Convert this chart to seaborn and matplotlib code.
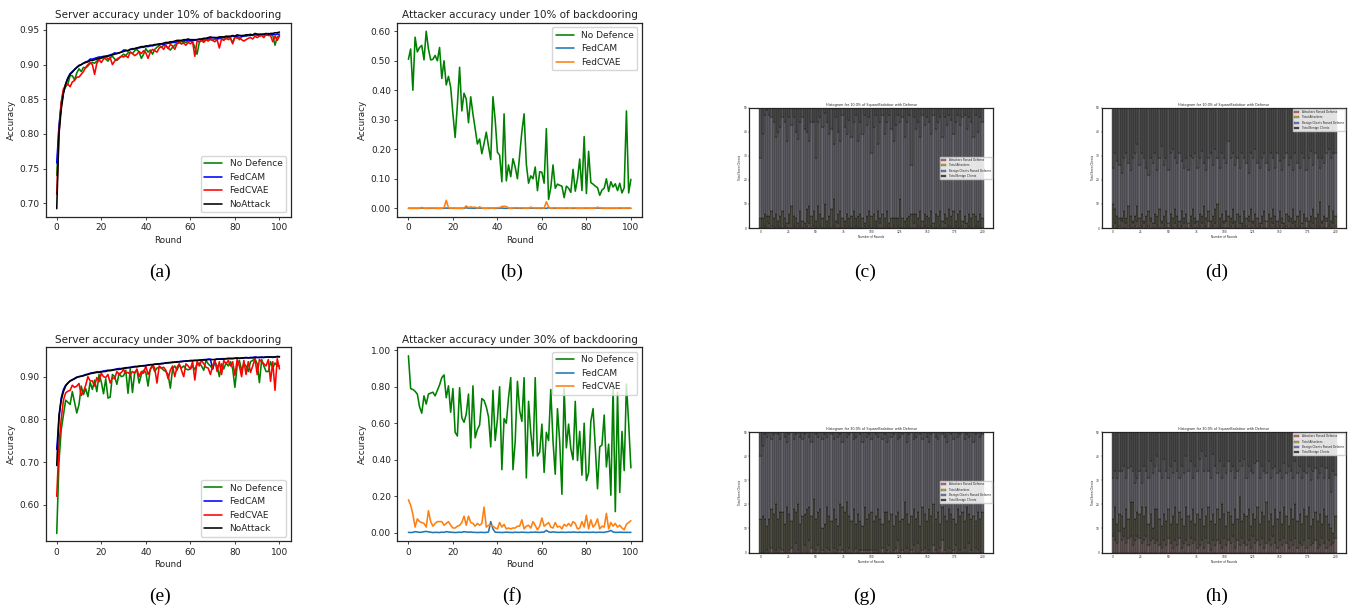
import numpy as np
import pandas as pd
import matplotlib
matplotlib.use("Agg")
import matplotlib.pyplot as plt
from matplotlib.patches import Patch
from matplotlib.ticker import FormatStrFormatter
import seaborn as sns

W, H = 1348, 611

rounds = list(range(101))
hist_rounds = list(range(0, 201, 2))

# (a) server accuracy, 10%
a_none = [.740,.810,.845,.862,.868,.872,.884,.884,.878,.888,
          .894,.890,.896,.895,.898,.902,.903,.902,.905,.908,
          .909,.910,.908,.905,.910,.912,.908,.906,.909,.912,
          .915,.913,.917,.918,.916,.920,.922,.918,.909,.915,
          .923,.918,.921,.915,.922,.925,.928,.925,.928,.927,
          .924,.921,.925,.928,.931,.932,.930,.933,.932,.934,
          .934,.933,.925,.915,.932,.935,.934,.936,.937,.936,
          .935,.937,.936,.938,.937,.936,.938,.939,.938,.932,
          .940,.941,.936,.940,.942,.941,.943,.944,.942,.944,
          .943,.941,.943,.944,.943,.945,.944,.942,.928,.940,
          .942]
a_cam = [.758,.810,.840,.860,.872,.881,.887,.890,.893,.896,
         .898,.900,.902,.904,.905,.908,.908,.909,.910,.911,
         .911,.912,.912,.913,.914,.915,.917,.916,.917,.918,
         .921,.921,.920,.922,.922,.923,.924,.924,.925,.925,
         .926,.926,.927,.927,.928,.929,.929,.930,.929,.930,
         .931,.931,.932,.932,.933,.934,.934,.934,.935,.935,
         .935,.935,.935,.936,.936,.936,.937,.937,.938,.938,
         .939,.939,.938,.938,.939,.939,.940,.940,.940,.941,
         .941,.941,.942,.941,.941,.942,.942,.942,.943,.943,
         .943,.943,.943,.943,.943,.944,.943,.944,.943,.944,
         .944]
a_cvae = [.713,.800,.845,.865,.870,.872,.868,.875,.877,.882,
          .882,.886,.890,.896,.900,.903,.900,.886,.902,.907,
          .903,.908,.912,.908,.910,.900,.905,.908,.910,.912,
          .911,.913,.910,.918,.916,.913,.915,.919,.916,.920,
          .917,.909,.918,.922,.920,.918,.924,.926,.922,.928,
          .923,.929,.927,.922,.930,.932,.930,.931,.928,.932,
          .930,.933,.912,.934,.933,.935,.932,.936,.934,.937,
          .935,.933,.936,.924,.937,.935,.938,.936,.938,.930,
          .940,.938,.939,.936,.934,.936,.938,.939,.937,.941,
          .939,.941,.942,.939,.944,.942,.942,.933,.941,.935,
          .941]
a_noattack = [.692,.800,.835,.858,.872,.880,.886,.889,.893,.896,
              .899,.900,.902,.903,.904,.906,.906,.907,.908,.909,
              .910,.911,.912,.912,.913,.914,.915,.916,.917,.918,
              .919,.920,.920,.922,.923,.923,.924,.925,.926,.926,
              .927,.927,.928,.928,.929,.929,.930,.930,.931,.932,
              .932,.933,.933,.934,.935,.935,.935,.936,.936,.937,
              .936,.936,.936,.936,.937,.937,.938,.938,.939,.940,
              .939,.939,.939,.940,.940,.940,.941,.941,.941,.942,
              .941,.943,.942,.942,.942,.943,.943,.943,.943,.945,
              .944,.944,.944,.944,.945,.944,.945,.945,.946,.946,
              .947]

# (b) attacker accuracy, 10%
b_none = [.505,.540,.400,.580,.530,.545,.552,.503,.600,.540,
          .503,.505,.518,.500,.545,.440,.500,.418,.447,.410,
          .320,.240,.350,.478,.330,.390,.370,.290,.378,.320,
          .270,.218,.235,.185,.220,.258,.210,.165,.378,.300,
          .190,.180,.090,.320,.093,.147,.107,.168,.140,.100,
          .180,.260,.320,.150,.085,.110,.100,.140,.060,.124,
          .122,.085,.270,.030,.070,.147,.068,.082,.078,.075,
          .036,.075,.068,.054,.132,.058,.100,.167,.060,.243,
          .050,.193,.087,.082,.075,.070,.044,.062,.068,.100,
          .057,.090,.072,.083,.060,.085,.052,.070,.330,.052,
          .098]
b_cam = [0,0,0,0,0,0,.001,0,0,0,
         0,0,0,0,0,0,0,.001,0,0,
         0,0,0,0,0,0,.002,0,.001,0,
         0,0,.001,0,0,0,0,0,0,0,
         0,0,.001,0,0,0,0,0,.001,0,
         0,0,0,0,0,.001,0,0,0,0,
         0,0,0,.002,0,0,0,0,0,0,
         0,0,0,0,0,0,0,0,0,0,
         0,0,0,0,0,.001,0,0,0,0,
         0,0,0,0,0,0,0,0,0,0,
         0]
b_cvae = [0,0,0,0,0,0,.003,0,0,0,
          .001,.001,0,0,0,0,.002,.027,.002,0,
          .001,0,0,0,0,.001,.008,.002,.005,.003,
          .004,0,.005,.001,0,0,.001,.001,0,.001,
          .002,.002,.006,.007,.006,.001,0,.001,.002,.002,
          .001,.002,0,.001,0,.004,.001,.001,.001,.001,
          .002,0,.022,.005,0,.001,.002,0,.001,0,
          0,.002,0,0,.002,.001,0,0,0,.001,
          .001,0,0,.001,0,.004,.001,.001,0,0,
          0,.001,0,0,0,.002,0,0,.001,.001,
          0]

# (e) server accuracy, 30%
e_none = [.533,.700,.775,.810,.845,.840,.835,.865,.840,.815,
          .835,.878,.858,.872,.853,.887,.870,.892,.865,.905,
          .888,.860,.895,.850,.852,.905,.900,.882,.908,.900,
          .902,.915,.861,.918,.863,.910,.915,.885,.905,.915,
          .910,.878,.918,.925,.912,.920,.922,.920,.915,.912,
          .905,.873,.918,.925,.915,.928,.920,.925,.918,.916,
          .918,.925,.916,.930,.932,.925,.915,.938,.930,.925,
          .918,.935,.925,.900,.930,.918,.932,.925,.935,.918,
          .875,.925,.938,.915,.930,.925,.912,.935,.938,.942,
          .930,.886,.940,.925,.912,.912,.935,.920,.932,.925,
          .925]
e_cam = [.730,.800,.850,.870,.880,.885,.890,.892,.896,.899,
         .900,.901,.903,.905,.906,.908,.909,.910,.911,.911,
         .912,.913,.914,.915,.915,.916,.917,.918,.919,.919,
         .920,.921,.921,.922,.923,.924,.924,.925,.925,.926,
         .926,.927,.928,.928,.929,.930,.930,.931,.931,.932,
         .933,.933,.934,.934,.935,.935,.936,.936,.937,.937,
         .938,.938,.938,.938,.939,.939,.940,.940,.941,.941,
         .918,.940,.941,.941,.942,.942,.942,.943,.943,.943,
         .943,.944,.943,.944,.944,.945,.944,.945,.945,.946,
         .945,.945,.946,.945,.946,.946,.946,.945,.946,.947,
         .946]
e_cvae = [.620,.740,.800,.845,.862,.866,.868,.880,.875,.878,
          .884,.856,.865,.880,.900,.890,.890,.878,.898,.888,
          .908,.900,.898,.905,.885,.898,.895,.912,.905,.910,
          .916,.908,.910,.905,.912,.908,.918,.900,.912,.908,
          .925,.905,.916,.928,.920,.885,.925,.920,.922,.915,
          .895,.915,.925,.900,.922,.930,.915,.900,.930,.925,
          .918,.935,.892,.935,.925,.938,.930,.922,.920,.905,
          .925,.938,.912,.935,.905,.938,.930,.938,.925,.935,
          .903,.940,.925,.900,.938,.905,.935,.910,.925,.942,
          .905,.940,.935,.930,.925,.940,.889,.935,.868,.942,
          .918]
e_noattack = [.692,.810,.845,.865,.878,.885,.890,.893,.895,.898,
              .900,.901,.902,.904,.905,.907,.908,.909,.910,.910,
              .911,.912,.912,.914,.914,.915,.916,.917,.917,.918,
              .919,.920,.921,.921,.922,.923,.923,.924,.925,.925,
              .926,.927,.928,.928,.929,.929,.930,.930,.931,.932,
              .932,.933,.933,.934,.934,.935,.935,.936,.936,.937,
              .937,.937,.938,.938,.938,.939,.939,.939,.940,.940,
              .940,.940,.941,.941,.941,.941,.942,.942,.942,.942,
              .943,.943,.943,.943,.944,.944,.944,.944,.944,.945,
              .945,.945,.945,.945,.946,.946,.946,.946,.946,.947,
              .947]

# (f) attacker accuracy, 30%
f_none = [.970,.790,.785,.775,.760,.690,.655,.750,.705,.760,
          .765,.770,.750,.780,.810,.850,.865,.740,.805,.660,
          .790,.550,.530,.795,.630,.605,.650,.760,.465,.805,
          .520,.565,.590,.735,.725,.690,.635,.470,.780,.505,
          .620,.800,.345,.625,.600,.740,.850,.345,.500,.830,
          .670,.610,.850,.300,.720,.550,.420,.850,.420,.440,
          .595,.330,.550,.505,.785,.500,.320,.680,.500,.210,
          .790,.465,.595,.460,.400,.720,.395,.555,.315,.600,
          .285,.330,.610,.680,.470,.240,.470,.480,.645,.360,
          .485,.205,.800,.115,.770,.220,.555,.340,.815,.600,
          .355]
f_cam = [.001,0,.001,.005,.003,.001,.002,.005,.006,.004,
         .002,0,.001,.001,0,.002,.001,.005,.003,.002,
         .001,0,.001,.002,.001,.005,.003,.002,.003,.001,
         .001,0,.001,.001,0,.001,.003,.060,.020,.002,
         .001,.001,0,.001,.002,.001,.001,0,.002,.001,
         .001,.002,.001,.001,0,.002,.001,.003,.001,.001,
         .002,.003,.012,.004,.001,.004,.002,.001,.001,.002,
         .001,.001,.002,.001,.003,.002,.001,.002,.001,.001,
         .002,.001,.001,.002,.001,.001,.002,.001,.001,.004,
         .006,.012,.003,.001,.001,.002,.001,.001,.001,.001,
         .001]
f_cvae = [.180,.150,.100,.030,.075,.060,.055,.050,.030,.120,
          .060,.035,.050,.060,.060,.060,.040,.050,.060,.040,
          .025,.025,.035,.040,.055,.090,.040,.090,.055,.050,
          .035,.050,.040,.050,.140,.030,.040,.040,.035,.025,
          .020,.055,.030,.045,.020,.025,.020,.025,.025,.035,
          .035,.070,.020,.035,.040,.025,.060,.040,.015,.035,
          .080,.035,.045,.055,.030,.025,.055,.030,.035,.020,
          .045,.035,.050,.035,.060,.050,.020,.025,.060,.030,
          .095,.020,.070,.030,.045,.075,.020,.035,.030,.105,
          .020,.055,.035,.050,.030,.040,.025,.015,.045,.055,
          .065]

c_att_pass = [0,0,1,0,2,1,0,0,1,0,0,1,0,2,0,1,0,0,1,0,
              0,1,2,0,1,0,0,1,0,0,1,0,0,1,0,2,0,0,1,0,
              1,0,0,1,0,0,0,1,0,1,0,0,1,0,2,0,0,1,0,0,
              1,0,1,0,0,0,1,0,0,2,0,1,0,0,1,0,0,1,0,0,
              0,1,0,2,0,1,0,0,1,0,0,1,2,0,1,0,0,1,0,0,0]
c_att_total = [4,4,6,5,5,7,4,6,3,5,7,4,2,6,9,5,4,2,7,3,
               2,8,9,5,7,3,9,6,4,10,3,5,8,12,3,6,7,4,3,6,
               4,5,7,4,5,6,4,2,5,7,5,6,3,7,4,6,4,7,2,4,
               4,4,4,12,4,3,4,5,6,6,6,4,7,3,6,5,4,7,2,6,
               5,7,3,6,4,8,5,7,3,6,7,3,5,2,6,4,6,5,3,6,4]
c_ben_pass = [29,39,47,49,47,46,44,38,40,42,46,44,36,46,43,46,40,37,44,46,
              41,40,36,44,44,29,44,46,42,48,44,39,41,35,46,40,36,47,42,39,
              45,38,44,47,36,44,39,47,43,46,31,42,47,35,44,47,39,44,47,41,
              36,43,47,44,46,38,44,47,26,46,41,44,38,47,43,46,44,39,47,41,
              44,46,38,46,43,47,45,39,44,47,43,46,47,41,46,44,38,47,40,46,44]

d_att_pass = [1,2,0,1,3,0,2,1,0,2,1,3,0,1,2,0,1,3,0,2,
              1,0,2,1,0,3,1,0,2,1,0,1,2,0,3,1,0,2,0,1,
              2,0,1,3,0,1,2,0,1,0,2,3,0,1,2,1,0,2,1,0,
              1,3,0,2,1,0,1,2,0,3,1,0,2,1,0,1,2,0,1,3,
              0,2,1,0,1,2,0,3,1,0,2,1,0,1,2,0,3,1,0,2,1]
d_att_total = [10,8,5,4,4,7,4,9,5,3,5,9,4,6,3,5,7,4,2,6,
               5,8,3,5,7,2,6,4,8,5,3,7,4,6,2,5,8,4,3,6,
               5,9,4,7,3,5,8,10,4,6,3,7,5,4,8,3,6,5,2,7,
               4,5,8,3,6,4,2,5,7,3,6,4,8,5,3,7,4,2,6,5,
               4,8,3,5,7,2,6,4,3,5,8,4,6,11,3,5,4,9,3,7,5]
d_ben_pass = [25,31,28,26,23,29,31,27,24,29,31,35,26,31,29,25,22,29,27,31,
              24,29,34,26,29,24,31,33,29,27,31,28,25,29,24,30,29,31,25,29,
              32,27,24,29,31,26,33,29,25,31,29,27,36,29,31,26,29,25,31,29,
              27,23,31,29,33,27,25,29,31,27,24,31,29,25,31,28,24,29,31,26,
              29,24,31,27,25,31,29,24,29,32,26,31,29,25,29,27,31,33,29,31,31]

g_att_pass = [0,0,0,1,0,2,0,1,0,2,1,0,0,1,2,0,4,1,0,0,
              3,0,5,2,0,1,3,0,1,0,2,1,0,2,0,1,3,1,0,0,
              2,0,1,2,0,1,1,1,1,1,1,0,1,0,0,2,0,1,3,0,
              1,2,5,0,1,0,2,0,1,3,0,4,0,1,2,0,1,0,3,1,
              0,2,5,1,0,2,0,1,3,0,1,0,2,0,4,1,0,2,1,0,0]
g_att_total = [14,15,14,11,14,18,16,20,14,17,17,12,19,16,13,18,17,20,12,15,
               16,18,19,15,22,14,17,18,10,12,19,15,13,18,14,11,20,19,17,21,
               15,13,18,12,16,13,11,19,14,16,17,13,15,18,14,12,17,17,13,16,
               11,15,17,13,14,21,16,12,15,18,14,17,11,19,16,13,18,15,20,14,
               17,12,19,15,13,18,16,14,12,18,15,17,13,19,16,14,15,13,17,14,17]
g_ben_pass = [40,44,49,48,50,47,49,50,49,47,50,48,46,49,50,47,49,50,48,47,
              49,50,48,46,50,49,48,50,47,49,48,50,49,47,50,48,49,46,50,48,
              49,50,47,48,50,49,46,50,48,49,47,50,49,48,50,47,49,46,50,48,
              49,50,47,48,49,50,46,49,50,47,48,50,49,47,50,48,46,49,50,48,
              47,50,49,48,46,50,49,47,50,48,49,50,47,49,48,50,46,49,50,48,49]

h_att_pass = [7,5,4,9,5,7,4,6,7,3,5,7,6,4,5,7,3,5,6,4,
              5,3,2,5,3,6,4,2,5,3,6,2,4,5,3,6,4,5,2,3,
              5,2,6,4,1,5,3,5,4,2,6,3,5,4,7,2,5,3,6,4,
              3,5,2,7,4,5,3,6,2,4,5,3,7,4,2,5,3,6,4,2,
              5,3,6,2,4,3,5,2,6,3,4,5,2,3,6,4,2,5,3,4,6]
h_att_total = [14,19,12,16,15,10,18,14,21,21,14,17,16,19,15,19,12,16,10,18,
               18,14,11,16,13,18,12,15,19,12,17,14,11,19,15,13,18,12,16,14,
               18,11,15,19,13,16,12,18,14,20,16,11,17,15,12,18,14,23,13,16,
               15,18,11,16,14,19,12,17,15,21,13,16,11,18,14,17,12,19,15,11,
               18,14,20,13,16,12,18,15,19,11,14,17,13,16,12,18,15,12,10,8,15]
h_ben_pass = [31,34,31,34,34,36,31,35,36,34,29,31,34,29,36,34,31,38,33,36,
              40,34,31,39,34,31,36,33,38,34,31,36,33,40,34,38,31,36,34,39,
              42,34,40,34,31,41,36,33,38,31,36,33,38,34,36,31,34,38,36,39,
              31,36,34,33,37,38,31,36,34,33,38,31,35,36,33,34,31,37,33,36,
              34,31,38,33,36,31,34,33,36,30,34,35,31,33,36,31,35,31,25,34,32]

labels = ["No Defence", "FedCAM", "FedCVAE", "NoAttack"]
hist_labels = ["Attackers Passed Defense", "Total Attackers",
               "Benign Clients Passed Defense", "Total Benign Clients"]

sns.set_theme(style="ticks", rc={"axes.linewidth": 0.9, "xtick.major.size": 2.3,
                                 "ytick.major.size": 2.3, "xtick.major.width": 0.6,
                                 "ytick.major.width": 0.6, "xtick.major.pad": 2.3,
                                 "ytick.major.pad": 2.3, "axes.labelpad": 2.6})
plt.rcParams["font.family"] = ["DejaVu Sans"]
plt.rcParams["text.color"] = "#222222"
plt.rcParams["axes.labelcolor"] = "#222222"
plt.rcParams["xtick.labelcolor"] = "#222222"
plt.rcParams["ytick.labelcolor"] = "#222222"


fig = plt.figure(figsize=(W / 100, H / 100), dpi=100)


def make_ax(left, top, right, bottom):
    return fig.add_axes([left / W, 1 - bottom / H, (right - left) / W, (bottom - top) / H])


def line_panel(box, series, colors, title, ylim, yticks, loc):
    ax = make_ax(*box)
    for vals, col, lab in zip(series, colors, labels):
        sns.lineplot(x=rounds, y=vals, color=col, label=lab, linewidth=1.15, ax=ax)
    ax.set_xlim(-5, 105)
    ax.set_ylim(*ylim)
    ax.set_xticks(range(0, 101, 20))
    ax.set_yticks(yticks)
    ax.yaxis.set_major_formatter(FormatStrFormatter("%.2f"))
    ax.tick_params(labelsize=6.5)
    ax.set_title(title, fontsize=7.5, pad=3.2)
    ax.set_xlabel("Round", fontsize=6.3)
    ax.set_ylabel("Accuracy", fontsize=6.3)
    ax.legend(loc=loc, fontsize=6.5, frameon=True, framealpha=0.8)
    return ax


def hist_panel(box, passed, total, benign, title, loc):
    ax = make_ax(*box)
    passed = np.array(passed)
    total = np.array(total)
    benign = np.array(benign)
    pieces = [(passed, 0 * passed, "#706060"),
              (total - passed, passed, "#505044"),
              (benign - total, total, "#68686f"),
              (50 - benign, benign, "#525252")]
    for height, base, col in pieces:
        df = pd.DataFrame({"round": hist_rounds, "n": height})
        sns.barplot(data=df, x="round", y="n", native_scale=True, width=1, bottom=base,
                    color=col, saturation=1, edgecolor="black", linewidth=0.22, ax=ax)
    ax.set_xlim(-10, 209.5)
    ax.set_ylim(0, 50)
    ax.set_xticks(range(0, 201, 25))
    ax.set_yticks(range(0, 51, 10))
    ax.tick_params(labelsize=2.1, length=0.8, width=0.3, pad=0.8)
    ax.set_title(title, fontsize=2.4, pad=1.2)
    ax.set_xlabel("Number of Rounds", fontsize=2.1, labelpad=0.8)
    ax.set_ylabel("Total Seen Clients", fontsize=2.1, labelpad=0.8)
    handles = [Patch(facecolor=c, edgecolor="#333333", linewidth=0.2)
               for c in ["#d06868", "#b0b040", "#7878c0", "#484848"]]
    ax.legend(handles, hist_labels, loc=loc, fontsize=1.95, frameon=True, framealpha=0.85,
              borderaxespad=0.4, handlelength=2, edgecolor="#cccccc")
    return ax


top_cols = ["green", "blue", "red", "black"]
low_cols = ["green", "tab:blue", "tab:orange"]

line_panel((45.6, 22.7, 290.6, 217), [a_none, a_cam, a_cvae, a_noattack], top_cols,
           "Server accuracy under 10% of backdooring", (0.680, 0.9605),
           [.70, .75, .80, .85, .90, .95], "lower right")
line_panel((397.3, 22.7, 642, 217), [b_none, b_cam, b_cvae], low_cols,
           "Attacker accuracy under 10% of backdooring", (-0.0295, 0.629),
           [0, .1, .2, .3, .4, .5, .6], "upper right")
line_panel((45.6, 347.3, 290.6, 541.3), [e_none, e_cam, e_cvae, e_noattack], top_cols,
           "Server accuracy under 30% of backdooring", (0.5147, 0.9687),
           [.6, .7, .8, .9], "lower right")
line_panel((397.3, 347.3, 642, 541.3), [f_none, f_cam, f_cvae], low_cols,
           "Attacker accuracy under 30% of backdooring", (-0.048, 1.0165),
           [0, .2, .4, .6, .8, 1.0], "upper right")

hist_panel((749.3, 107.7, 993, 228), c_att_pass, c_att_total, c_ben_pass,
           "Histogram for 10.0% of SquareBackdoor with Defense", "center right")
hist_panel((1101.7, 107.7, 1346, 228), d_att_pass, d_att_total, d_ben_pass,
           "Histogram for 10.0% of SquareBackdoor with Defense", "upper right")
hist_panel((749.3, 432, 993, 552.5), g_att_pass, g_att_total, g_ben_pass,
           "Histogram for 30.0% of SquareBackdoor with Defense", "center right")
hist_panel((1101.7, 432, 1346, 552.5), h_att_pass, h_att_total, h_ben_pass,
           "Histogram for 30.0% of SquareBackdoor with Defense", "upper right")

captions = ["(a)", "(b)", "(c)", "(d)", "(e)", "(f)", "(g)", "(h)"]
cap_x = [160, 512, 865, 1217] * 2
cap_y = [272] * 4 + [596] * 4
for cap, cx, cy in zip(captions, cap_x, cap_y):
    fig.text(cx / W, 1 - cy / H, cap, ha="center", va="center",
             family="Liberation Serif", fontsize=14, color="black")

fig.savefig("out.png", dpi=100)
